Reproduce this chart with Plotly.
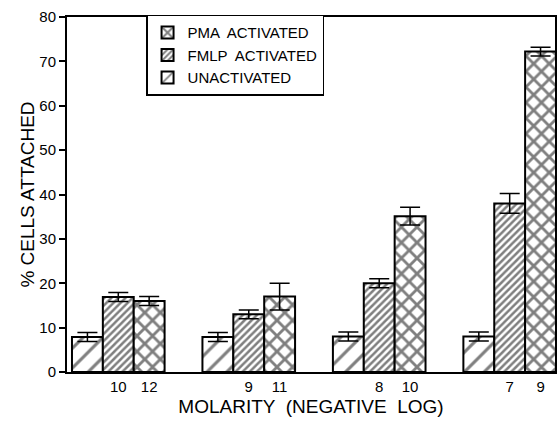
import plotly.graph_objects as go

# ---- data ----
groups = ["G1", "G2", "G3", "G4"]
series_names = ["UNACTIVATED", "FMLP  ACTIVATED", "PMA  ACTIVATED"]
unactivated = [7.9, 7.9, 8.0, 8.0]
unactivated_err = [1.0, 1.0, 1.0, 1.0]
fmlp = [16.9, 13.0, 20.0, 38.0]
fmlp_err = [1.0, 1.0, 1.0, 2.2]
pma = [16.0, 17.0, 35.1, 72.2]
pma_err = [1.0, 3.0, 2.0, 1.0]
fmlp_labels = ["10", "9", "8", "7"]
pma_labels = ["12", "11", "10", "9"]

# ---- layout constants ----
BAR_W = 31.0
GROUP_STEP = 131.0
X0 = 20.5  # center of first bar relative to axis start

def pos(g, s):
    return X0 + g * GROUP_STEP + s * BAR_W

patterns = [
    dict(shape="/", size=14, solidity=0.22, fgcolor="black", bgcolor="white"),
    dict(shape="/", size=5, solidity=0.5, fgcolor="black", bgcolor="white"),
    dict(shape="x", size=11, solidity=0.45, fgcolor="black", bgcolor="white"),
]
values = [unactivated, fmlp, pma]
errors = [unactivated_err, fmlp_err, pma_err]

fig = go.Figure()
for s in range(3):
    fig.add_trace(go.Bar(
        x=[pos(g, s) for g in range(len(groups))],
        y=values[s],
        width=BAR_W,
        name=series_names[s],
        marker=dict(color="white", line=dict(color="black", width=2), pattern=patterns[s]),
        error_y=dict(type="data", array=errors[s], symmetric=True, color="black",
                     thickness=1.5, width=10),
    ))

tickvals = []
ticktext = []
for g in range(len(groups)):
    tickvals += [pos(g, 1), pos(g, 2)]
    ticktext += [fmlp_labels[g], pma_labels[g]]

font = "Liberation Sans, Arial, sans-serif"
fig.update_layout(
    width=559, height=421,
    margin=dict(l=67, r=2, t=17, b=49),
    paper_bgcolor="white", plot_bgcolor="white",
    font=dict(family=font, size=15, color="black"),
    showlegend=True,
    legend=dict(x=0.162, y=1.006, xanchor="left", yanchor="top",
                traceorder="reversed", bordercolor="black", borderwidth=1.5,
                bgcolor="white", font=dict(size=15), itemwidth=30,
                tracegroupgap=0),
    xaxis=dict(range=[0, 490], tickvals=tickvals, ticktext=ticktext, ticks="",
               showline=True, linecolor="black", linewidth=2, mirror=True,
               showgrid=False, zeroline=False,
               title=dict(text="MOLARITY  (NEGATIVE  LOG)", font=dict(size=19), standoff=6),
               tickfont=dict(size=15)),
    yaxis=dict(range=[0, 80], tickvals=list(range(0, 81, 10)), ticks="outside",
               ticklen=6, tickwidth=1.5, tickcolor="black",
               showline=True, linecolor="black", linewidth=2, mirror=True,
               showgrid=False, zeroline=False,
               title=dict(text="% CELLS ATTACHED", font=dict(size=19), standoff=0),
               tickfont=dict(size=15)),
)

fig.write_html("out.html", config={"displayModeBar": False},
               post_script="document.body.style.margin='0';document.body.style.overflow='hidden';")
